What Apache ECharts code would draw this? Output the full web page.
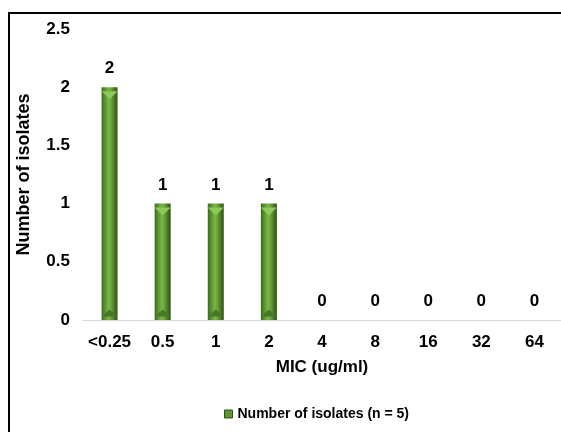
<!DOCTYPE html>
<html>
<head>
<meta charset="utf-8">
<script src="https://cdn.jsdelivr.net/npm/echarts@6/dist/echarts.min.js"></script>
<style>
  html, body { margin: 0; padding: 0; background: #fff; overflow: hidden; }
  #chart { width: 561px; height: 432px; }
</style>
</head>
<body>
<div id="chart"></div>
<script>
// MIC distribution of the isolates
const micLabels = ['<0.25', '0.5', '1', '2', '4', '8', '16', '32', '64'];
const isolateCounts = [2, 1, 1, 1, 0, 0, 0, 0, 0];
const seriesName = 'Number of isolates (n = 5)';

const font = 'Liberation Sans, Arial, sans-serif';

// bevelled green bar fill: dark edges, bright centre
const barFill = new echarts.graphic.LinearGradient(0, 0, 1, 0, [
  { offset: 0, color: '#3a6a1c' },
  { offset: 0.15, color: '#4f8a2a' },
  { offset: 0.45, color: '#7ab648' },
  { offset: 0.6, color: '#6aa33a' },
  { offset: 0.85, color: '#426f20' },
  { offset: 1, color: '#2f5516' }
]);

// bevel caps only on bars that have height
const capValues = isolateCounts.map(v => (v > 0 ? v : '-'));

const chart = echarts.init(document.getElementById('chart'));
chart.setOption({
  animation: false,
  backgroundColor: '#fff',
  // frame: top and left edges only, the rest runs off the page
  graphic: [
    {
      type: 'line',
      shape: { x1: 9, y1: 12, x2: 9, y2: 432 },
      style: { stroke: '#000', lineWidth: 2 },
      silent: true
    },
    {
      type: 'line',
      shape: { x1: 8, y1: 13, x2: 561, y2: 13 },
      style: { stroke: '#000', lineWidth: 2 },
      silent: true
    }
  ],
  grid: { left: 83, top: 29, width: 484, height: 291 },
  legend: {
    top: 402,
    left: 219,
    itemWidth: 8,
    itemHeight: 8,
    itemGap: 4,
    icon: 'rect',
    textStyle: { fontFamily: font, fontWeight: 'bold', fontSize: 14, color: '#000' },
    data: [{ name: seriesName, itemStyle: { color: '#5d9632', borderColor: '#2f5516', borderWidth: 1 } }]
  },
  xAxis: {
    type: 'category',
    data: micLabels,
    name: 'MIC (ug/ml)',
    nameLocation: 'middle',
    nameGap: 39,
    nameTextStyle: { fontFamily: font, fontWeight: 'bold', fontSize: 17, color: '#000' },
    axisLine: { lineStyle: { color: '#d9d9d9', width: 1 } },
    axisTick: { show: false },
    axisLabel: { interval: 0, fontFamily: font, fontWeight: 'bold', fontSize: 17, color: '#000', margin: 14 }
  },
  yAxis: {
    type: 'value',
    min: 0,
    max: 2.5,
    interval: 0.5,
    name: 'Number of isolates',
    nameLocation: 'middle',
    nameGap: 50,
    nameTextStyle: { fontFamily: font, fontWeight: 'bold', fontSize: 18, color: '#000' },
    axisLine: { show: false },
    axisTick: { show: false },
    splitLine: { show: false },
    axisLabel: { fontFamily: font, fontWeight: 'bold', fontSize: 17, color: '#000', margin: 13 }
  },
  series: [
    {
      name: seriesName,
      type: 'bar',
      data: isolateCounts,
      barWidth: 16,
      barGap: '-100%',
      itemStyle: { color: barFill, borderWidth: 0 },
      label: {
        show: true,
        position: 'top',
        distance: 10,
        fontFamily: font,
        fontWeight: 'bold',
        fontSize: 17,
        color: '#000'
      }
    },
    {
      // light chevron at the top of each bar
      name: 'cap',
      type: 'pictorialBar',
      data: capValues,
      barWidth: 16,
      barGap: '-100%',
      symbol: 'triangle',
      symbolRotate: 180,
      symbolSize: [16, 8],
      symbolPosition: 'end',
      symbolOffset: [0, 4],
      itemStyle: { color: '#8cc95a' },
      z: 3,
      silent: true
    },
    {
      // darker chevron at the foot of each bar
      name: 'foot',
      type: 'pictorialBar',
      data: capValues,
      barWidth: 16,
      barGap: '-100%',
      symbol: 'triangle',
      symbolSize: [16, 7],
      symbolPosition: 'start',
      symbolOffset: [0, -3.5],
      itemStyle: { color: '#48772a' },
      z: 3,
      silent: true
    }
  ]
});
</script>
</body>
</html>
